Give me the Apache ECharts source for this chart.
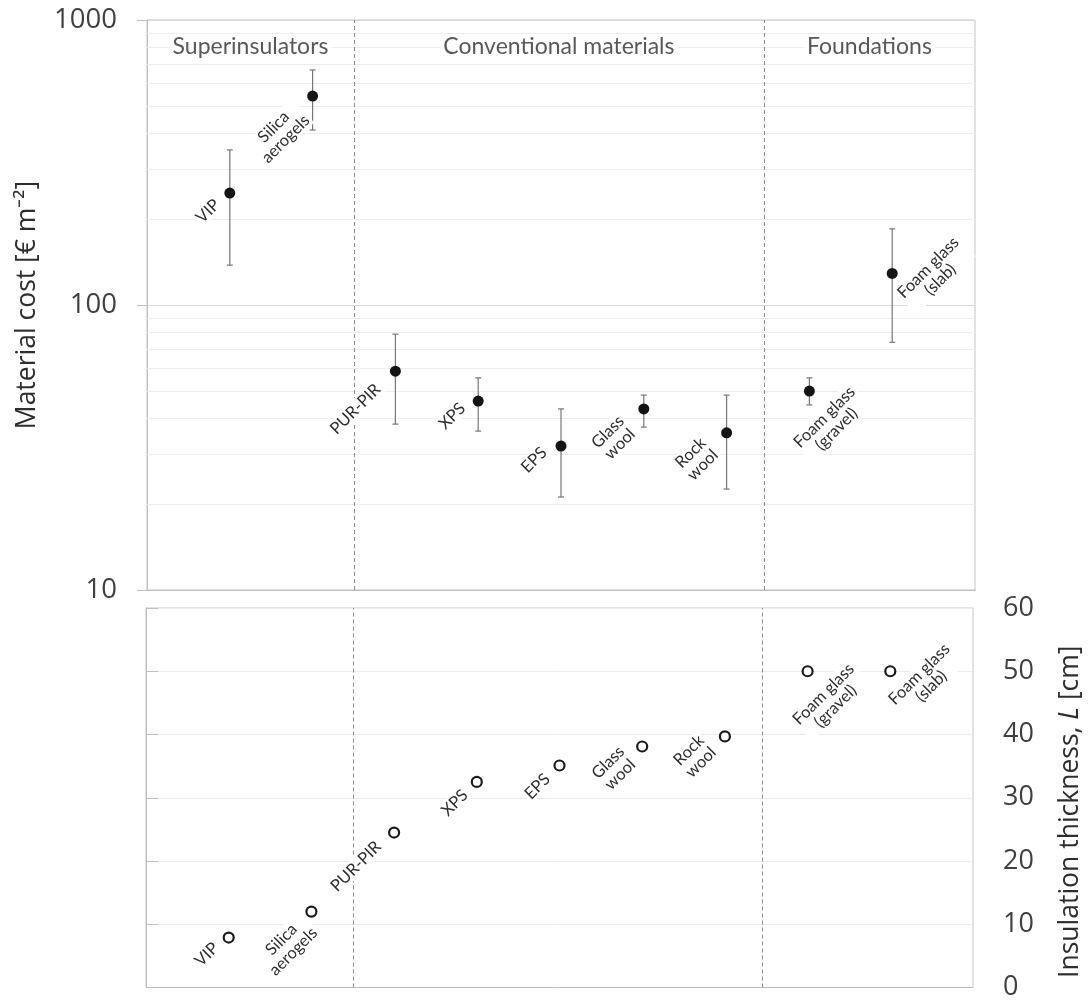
<!DOCTYPE html>
<html><head><meta charset="utf-8">
<script src="https://cdn.jsdelivr.net/npm/echarts@6/dist/echarts.min.js"></script>
<style>html,body{margin:0;padding:0;background:#fff;}#c{width:1092px;height:1001px;}</style>
</head><body><div id="c"></div>
<script>
// ---------------- data ----------------
const materials = ['VIP', 'Silica\naerogels', 'PUR-PIR', 'XPS', 'EPS', 'Glass\nwool', 'Rock\nwool', 'Foam glass\n(gravel)', 'Foam glass\n(slab)'];
const costMid  = [247, 541, 58.6, 46.0, 32.0, 43.2, 35.6, 49.9, 129];
const costLow  = [138, 411, 38.2, 36.1, 21.2, 37.3, 22.6, 44.6, 74];
const costHigh = [350, 668, 79.0, 55.5, 43.2, 48.3, 48.3, 55.5, 185];
const thickness = [7.9, 12.0, 24.5, 32.5, 35.1, 38.1, 39.7, 50.0, 50.0];
const groupNames = ['Superinsulators', 'Conventional materials', 'Foundations'];
const groupDividers = [2.5, 7.45];
const costTicks = [10, 100, 1000];
const costMinorGrid = [20, 30, 40, 50, 60, 70, 80, 90, 200, 300, 400, 500, 600, 700, 800, 900];
const thicknessTicks = [0, 10, 20, 30, 40, 50, 60];

// ---------------- layout / styles ----------------
const xMin = 0, xMax = materials.length + 1;
const slotX = materials.map((_, i) => i + 1);
const labelOffTop = [[-22, 18], [-33, 37], [-40, 38], [-26, 15], [-27, 14], [-30, 29], [-30, 26], [21, 32], [42, 0]];
const labelOffBot = [[-21, 18], [-23, 35], [-37, 35], [-21, 22], [-21, 22], [-27, 23], [-29, 21], [23, 30], [36, 10]];
const groupTitleY = 810;
const FONT = 'Open Sans';
const LFONT = 'Lato';
const txt = '#2e2e2e';
const dotTop = 11, dotBot = 10;

const catLabel = {
  show: true, rotate: 45, align: 'center', verticalAlign: 'middle',
  fontFamily: LFONT, fontSize: 16.5, color: txt, lineHeight: 17,
  backgroundColor: '#fff', padding: [0, 2],
  formatter: p => materials[p.dataIndex]
};

const topScatter = costMid.map((v, i) => ({
  value: [slotX[i], v],
  label: { position: [dotTop / 2 + labelOffTop[i][0], dotTop / 2 + labelOffTop[i][1]] }
}));
const botScatter = thickness.map((v, i) => ({
  value: [slotX[i], v],
  label: { position: [dotBot / 2 + labelOffBot[i][0], dotBot / 2 + labelOffBot[i][1]] }
}));
const errData = costMid.map((v, i) => [slotX[i], costLow[i], costHigh[i]]);
const bounds = [xMin, ...groupDividers, xMax];
const groupTitleData = groupNames.map((n, i) => ({ value: [(bounds[i] + bounds[i + 1]) / 2, groupTitleY], name: n }));

const dividerLine = {
  silent: true, symbol: 'none', z: 1,
  lineStyle: { color: '#8c8c8c', type: [4, 3], width: 1 },
  label: { show: false },
  data: groupDividers.map(x => ({ xAxis: x }))
};

const option = {
  animation: false,
  backgroundColor: '#fff',
  grid: [
    { left: 147, top: 20, width: 828, height: 570, show: true, borderColor: '#c4c4c4', borderWidth: 1, backgroundColor: 'transparent' },
    { left: 146, top: 608, width: 829, height: 380, show: true, borderColor: '#c4c4c4', borderWidth: 1, backgroundColor: 'transparent' }
  ],
  xAxis: [
    { gridIndex: 0, type: 'value', min: xMin, max: xMax, axisLine: { show: true, lineStyle: { color: '#bfbfbf' } }, axisTick: { show: false }, axisLabel: { show: false }, splitLine: { show: false } },
    { gridIndex: 1, type: 'value', min: xMin, max: xMax, axisLine: { show: true, lineStyle: { color: '#bfbfbf' } }, axisTick: { show: false }, axisLabel: { show: false }, splitLine: { show: false } }
  ],
  yAxis: [
    {
      gridIndex: 0, type: 'log', logBase: 10, min: costTicks[0], max: costTicks[costTicks.length - 1],
      name: 'Material cost [€ m\u207B\u00B2]', nameLocation: 'middle', nameGap: 106, nameRotate: 90,
      nameTextStyle: { fontFamily: FONT, fontSize: 26.5, color: txt },
      axisLine: { show: true, lineStyle: { color: '#bfbfbf' } },
      axisTick: { show: true, inside: false, length: 10, lineStyle: { color: '#bfbfbf' } },
      axisLabel: { fontFamily: FONT, fontSize: 27.5, color: '#404040', margin: 30, formatter: v => String(Math.round(v)) },
      splitLine: { show: true, lineStyle: { color: '#d9d9d9' } }
    },
    {
      gridIndex: 1, type: 'value', position: 'right', min: 0, max: 60, interval: 10,
      name: 'Insulation thickness, {i|L} [cm]', nameLocation: 'middle', nameGap: 84, nameRotate: 90,
      nameTextStyle: { fontFamily: FONT, fontSize: 26.5, color: txt, padding: [0, 28, 0, 0], rich: { i: { fontFamily: FONT, fontSize: 26.5, color: txt, fontStyle: 'italic' } } },
      axisLine: { show: true, lineStyle: { color: '#bfbfbf' } },
      axisTick: { show: true, inside: false, length: 12, lineStyle: { color: '#bfbfbf' } },
      axisLabel: { fontFamily: FONT, fontSize: 27, color: '#404040', margin: 30 },
      splitLine: { show: true, lineStyle: { color: '#ececec' } }
    }
  ],
  series: [
    { // minor log gridlines (top)
      type: 'line', xAxisIndex: 0, yAxisIndex: 0, data: [], z: 1, silent: true,
      markLine: {
        silent: true, symbol: 'none', label: { show: false }, z: 1,
        lineStyle: { color: '#eeeeee', type: 'solid', width: 1 },
        data: costMinorGrid.map(v => ({ yAxis: v }))
      }
    },
    { type: 'line', xAxisIndex: 0, yAxisIndex: 0, data: [], z: 1, silent: true, markLine: dividerLine },
    { type: 'line', xAxisIndex: 1, yAxisIndex: 1, data: [], z: 1, silent: true, markLine: dividerLine },
    { // error bars
      type: 'custom', xAxisIndex: 0, yAxisIndex: 0, z: 2, silent: true,
      data: errData,
      renderItem: (params, api) => {
        const x = api.value(0);
        const lo = api.coord([x, api.value(1)]);
        const hi = api.coord([x, api.value(2)]);
        const cap = 3;
        const st = { stroke: '#777', lineWidth: 1.2 };
        return { type: 'group', children: [
          { type: 'line', shape: { x1: lo[0], y1: lo[1], x2: hi[0], y2: hi[1] }, style: st },
          { type: 'line', shape: { x1: lo[0] - cap, y1: lo[1], x2: lo[0] + cap, y2: lo[1] }, style: st },
          { type: 'line', shape: { x1: hi[0] - cap, y1: hi[1], x2: hi[0] + cap, y2: hi[1] }, style: st }
        ] };
      }
    },
    {
      type: 'scatter', xAxisIndex: 0, yAxisIndex: 0, z: 6, symbol: 'circle', symbolSize: dotTop,
      itemStyle: { color: '#141414', opacity: 1 }, label: catLabel, data: topScatter
    },
    {
      type: 'scatter', xAxisIndex: 1, yAxisIndex: 1, z: 6, symbol: 'circle', symbolSize: dotBot,
      itemStyle: { color: '#fff', borderColor: '#1a1a1a', borderWidth: 2.2, opacity: 1 }, label: catLabel, data: botScatter
    },
    {
      type: 'scatter', xAxisIndex: 0, yAxisIndex: 0, z: 6, symbolSize: 0, silent: true,
      label: { show: true, position: 'inside', formatter: '{b}', fontFamily: LFONT, fontSize: 23, color: txt, backgroundColor: '#fff', padding: [0, 3] },
      data: groupTitleData
    }
  ]
};
const chart = echarts.init(document.getElementById('c'), null, { renderer: 'canvas' });
chart.setOption(option);
</script></body></html>
